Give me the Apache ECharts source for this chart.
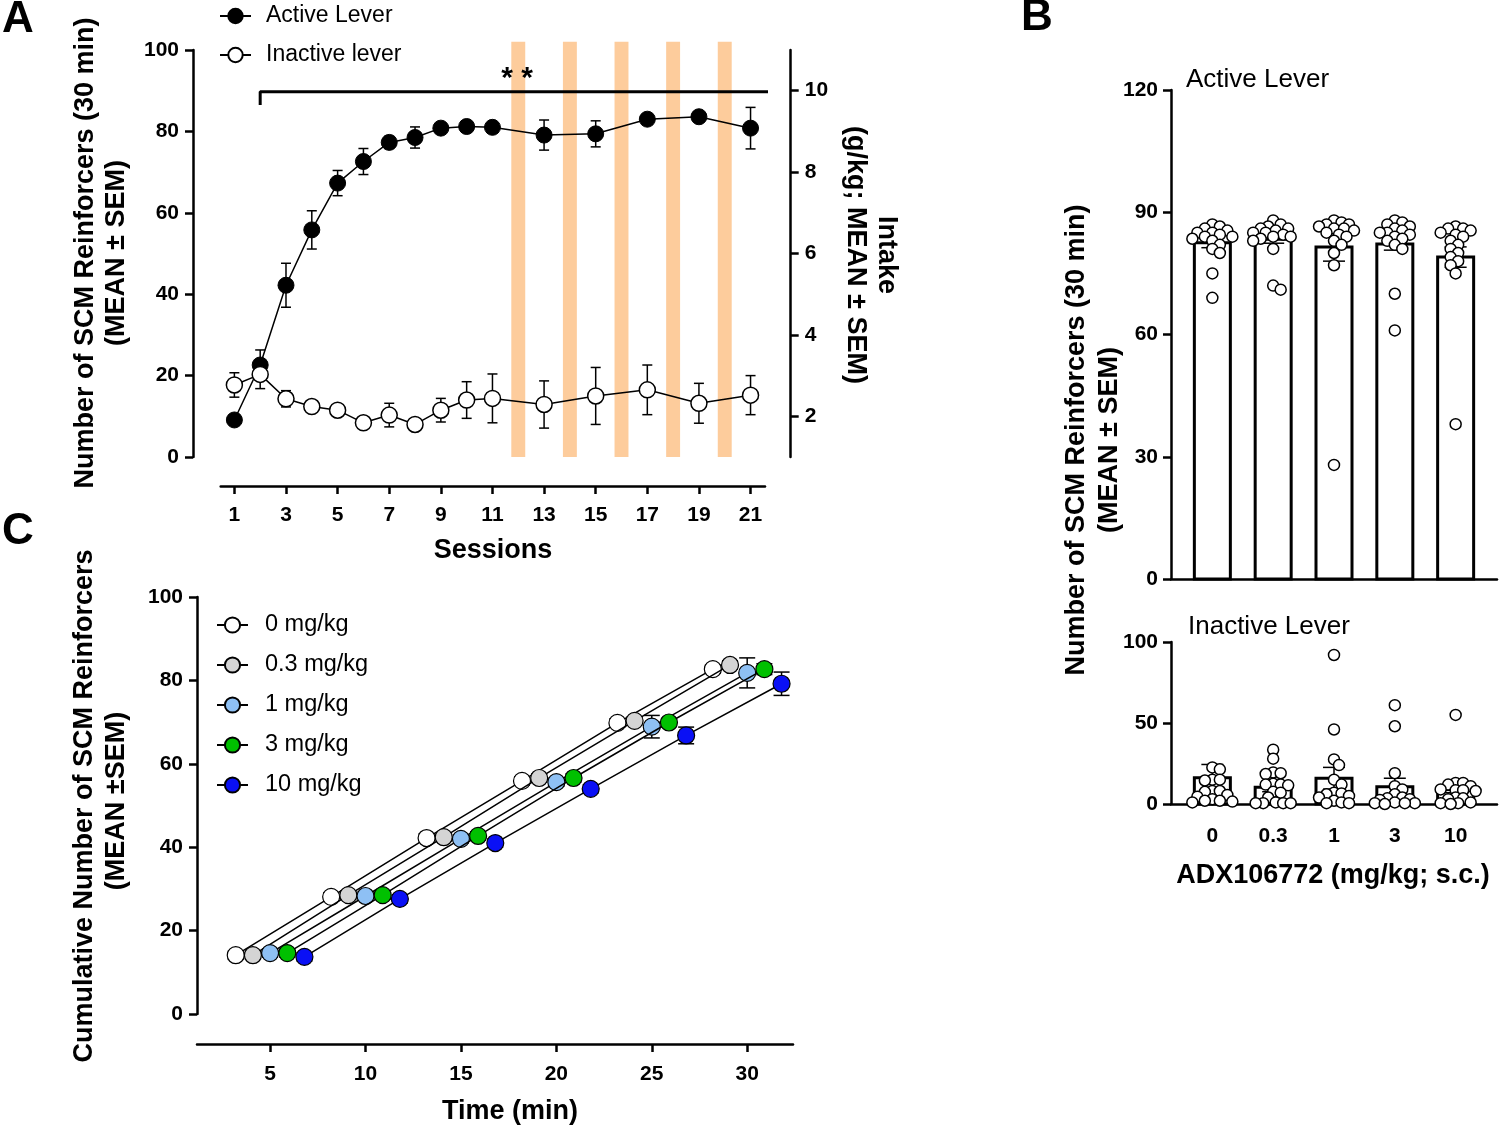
<!DOCTYPE html>
<html><head><meta charset="utf-8">
<script src="https://cdn.jsdelivr.net/npm/echarts@6/dist/echarts.min.js"></script>
<style>html,body{margin:0;padding:0;background:#fff}#c{width:1500px;height:1128px}</style>
</head><body><div id="c"></div><script>
const FONT = '"Liberation Sans", Arial, sans-serif';

// ---------- Panel A ----------
const sessions      = [1, 2, 3, 4, 5, 6, 7, 8, 9, 10, 11, 13, 15, 17, 19, 21];
const activeLever   = [9.1, 22.6, 42.2, 55.8, 67.3, 72.6, 77.3, 78.5, 80.8, 81.2, 81.0, 79.1, 79.4, 83.0, 83.6, 80.8];
const activeSEM     = [0.5, 3.7, 5.4, 4.7, 3.1, 3.2, 1.5, 2.6, 1.2, 0.6, 0.6, 3.7, 3.2, 1.0, 0.8, 5.1];
const inactiveLever = [17.7, 20.3, 14.3, 12.4, 11.5, 8.4, 10.3, 8.0, 11.5, 14.0, 14.4, 12.9, 15.0, 16.5, 13.2, 15.2];
const inactiveSEM   = [3.0, 3.5, 2.0, 0.8, 0.8, 0.8, 2.9, 0.8, 2.9, 4.5, 6.0, 5.8, 7.0, 6.1, 4.9, 4.8];
const orangeSessions = [12, 14, 16, 18, 20];
const sessionTicks = [1, 3, 5, 7, 9, 11, 13, 15, 17, 19, 21];
const intakeTicks = [2, 4, 6, 8, 10];
const bracketFrom = 2, bracketTo = 21.8, bracketLevel = 89.75, bracketFoot = 86.5;

// ---------- Panel B ----------
const doseLabels = ['0', '0.3', '1', '3', '10'];
const activeMeans = [82.5, 83.4, 81.5, 82.2, 79.0];
const activeBarSEM = [1.2, 1.0, 3.5, 1.5, 2.5];
const inactiveMeans = [16.2, 10.3, 15.9, 10.7, 9.0];
const inactiveBarSEM = [8.2, 2.7, 6.7, 5.2, 2.0];
const activeDots = [
  [87, 86.5, 86, 85.5, 85, 85, 84.5, 84, 84, 83.5, 83, 82, 81, 80, 75, 69],
  [88, 87, 86.5, 86, 86, 85.5, 85, 85, 84.5, 84, 84, 83.5, 83, 81, 72, 71],
  [88, 87.5, 87, 87, 86.5, 86, 86, 85.5, 85, 84.5, 84, 83, 82, 80, 77, 28],
  [88, 87.5, 87, 86.5, 86, 85.5, 85, 85, 84.5, 84, 83.5, 83, 82, 81, 70, 61],
  [86.5, 86, 86, 85.5, 85, 84.5, 84, 83, 82, 81, 80, 79, 78, 77, 75, 38]
];
const inactiveDots = [
  [22.6, 21.4, 15, 15, 14.5, 8, 8, 7.5, 5.6, 4.5, 3, 2, 2, 1.5, 1],
  [33.5, 28, 19.5, 19, 18.5, 12.5, 12, 12, 11.5, 7.5, 7, 4, 1, 0.5, 0.5, 0.5, 0.5],
  [92, 46, 27.5, 24, 15, 12, 7, 6.5, 6, 5, 4, 2, 1, 0.5, 0.5],
  [61, 48, 19, 11, 9, 6, 4, 3.5, 3, 2.5, 1, 0.5, 0.5, 0.5, 0],
  [55, 13, 13, 12, 11, 9, 8.5, 8.5, 8, 4, 3.5, 3, 1, 0.5, 0.5, 0]
];

// ---------- Panel C ----------
const timeBins = [5, 10, 15, 20, 25, 30];
const doseNames = ['0 mg/kg', '0.3 mg/kg', '1 mg/kg', '3 mg/kg', '10 mg/kg'];
const doseColors = ['#ffffff', '#d4d4d4', '#8ec0f4', '#00c000', '#0a10f5'];
const doseOffsets = [-1.8, -0.9, 0, 0.9, 1.8];
const cumDose0  = [14.1, 28.1, 42.2, 55.9, 69.8, 82.7];
const cumDose03 = [14.1, 28.5, 42.4, 56.6, 70.3, 83.7];
const cumDose1  = [14.6, 28.3, 42.0, 55.6, 68.9, 81.8];
const cumDose3  = [14.6, 28.5, 42.7, 56.6, 69.9, 82.7];
const cumDose10 = [13.7, 27.6, 41.0, 54.0, 66.8, 79.2];
const semDose0  = [1, 1, 1, 1, 1, 1];
const semDose03 = [1, 1, 1, 1, 1, 1];
const semDose1  = [1, 1, 1, 1, 2.7, 3.6];
const semDose3  = [1, 1, 1, 1, 1, 1.3];
const semDose10 = [1, 1, 1, 1, 2.0, 2.8];
const timeTicks = [5, 10, 15, 20, 25, 30];
const cumValues = [cumDose0, cumDose03, cumDose1, cumDose3, cumDose10];
const cumSEMs = [semDose0, semDose03, semDose1, semDose3, semDose10];

// ---------- helpers ----------
function errItem(capHalf, lw) {
  return function (params, api) {
    const x = api.value(0), m = api.value(1), s = api.value(2);
    const t = api.coord([x, m + s]), b = api.coord([x, m - s]);
    const st = { stroke: '#000', lineWidth: lw };
    return { type: 'group', children: [
      { type: 'line', shape: { x1: t[0], y1: t[1], x2: b[0], y2: b[1] }, style: st },
      { type: 'line', shape: { x1: t[0] - capHalf, y1: t[1], x2: t[0] + capHalf, y2: t[1] }, style: st },
      { type: 'line', shape: { x1: b[0] - capHalf, y1: b[1], x2: b[0] + capHalf, y2: b[1] }, style: st }
    ] };
  };
}
function barItem(params, api) {
  const g = api.value(0), m = api.value(1);
  const p0 = api.coord([g, 0]), p1 = api.coord([g, m]);
  return { type: 'rect', shape: { x: p0[0] - 18, y: p1[1], width: 36, height: p0[1] - p1[1] },
    style: { fill: '#fff', stroke: '#000', lineWidth: 3 } };
}
function swarmItem(groups) {
  return function (params, api) {
    const g = api.value(0);
    const vals = groups[g];
    const r = 5.5, minD = 7.2, step = 2.5, maxOff = 20;
    const placed = [];
    vals.forEach(v => {
      const p = api.coord([g, v]);
      let best = 0, bestScore = -1;
      const n = Math.ceil(maxOff / step) * 2;
      for (let k = 0; k <= n; k++) {
        const off = (k % 2 === 1 ? 1 : -1) * Math.ceil(k / 2) * step;
        let md = Infinity;
        placed.forEach(q => { const d = Math.hypot(p[0] + off - q[0], p[1] - q[1]); if (d < md) md = d; });
        if (md >= minD) { best = off; break; }
        if (md > bestScore) { bestScore = md; best = off; }
      }
      placed.push([p[0] + best, p[1]]);
    });
    return { type: 'group', children: placed.map(q => ({ type: 'circle', shape: { cx: q[0], cy: q[1], r },
      style: { fill: '#fff', stroke: '#000', lineWidth: 1.5 } })) };
  };
}
function txt(text, x, y, size, weight, rot, align) {
  return { type: 'text', x, y, rotation: rot || 0, z: 100,
    style: { text, fill: '#000', fontSize: size, fontWeight: weight, fontFamily: FONT,
      textAlign: align || 'center', textVerticalAlign: 'middle', align: align || 'center', verticalAlign: 'middle' } };
}
const axisLineStyle = { show: true, onZero: false, lineStyle: { color: '#000', width: 2.5 } };
const tickStyle = { show: true, length: 8, inside: false, lineStyle: { color: '#000', width: 2.5 } };
const labelStyle = (m) => ({ color: '#000', fontSize: 21, fontWeight: 'bold', fontFamily: FONT, margin: m });

const chart = echarts.init(document.getElementById('c'), null, { renderer: 'canvas' });

const series = [];
// Panel A
series.push({ type: 'custom', name: 'bands', xAxisIndex: 0, yAxisIndex: 0, clip: false, z: 1, silent: true,
  data: orangeSessions.map(s => [s]),
  renderItem: (params, api) => {
    const s = api.value(0);
    const a = api.coord([s - 0.27, 102]), b = api.coord([s + 0.27, 0]);
    return { type: 'rect', shape: { x: a[0], y: a[1], width: b[0] - a[0], height: b[1] - a[1] }, style: { fill: '#fdcc9c' } };
  } });
series.push({ type: 'line', name: 'bracket', xAxisIndex: 0, yAxisIndex: 0, clip: false, symbol: 'none', z: 3, silent: true,
  data: [[bracketFrom, bracketFoot], [bracketFrom, bracketLevel], [bracketTo, bracketLevel], [bracketTo, bracketFoot]],
  lineStyle: { color: '#000', width: 3 } });
series.push({ type: 'custom', name: 'activeErr', xAxisIndex: 0, yAxisIndex: 0, z: 4, clip: false,
  data: sessions.map((s, i) => [s, activeLever[i], activeSEM[i]]), renderItem: errItem(5, 1.5) });
series.push({ type: 'custom', name: 'inactiveErr', xAxisIndex: 0, yAxisIndex: 0, z: 4, clip: false,
  data: sessions.map((s, i) => [s, inactiveLever[i], inactiveSEM[i]]), renderItem: errItem(5, 1.5) });
series.push({ type: 'line', name: 'Active Lever', xAxisIndex: 0, yAxisIndex: 0, z: 5, clip: false,
  data: sessions.map((s, i) => [s, activeLever[i]]), symbol: 'circle', symbolSize: 16,
  itemStyle: { color: '#000', borderColor: '#000', borderWidth: 1 }, lineStyle: { color: '#000', width: 1.5 } });
series.push({ type: 'line', name: 'Inactive lever', xAxisIndex: 0, yAxisIndex: 0, z: 6, clip: false,
  data: sessions.map((s, i) => [s, inactiveLever[i]]), symbol: 'circle', symbolSize: 16,
  itemStyle: { color: '#fff', borderColor: '#000', borderWidth: 1.5 }, lineStyle: { color: '#000', width: 1.5 } });

// Panel B
series.push({ type: 'custom', xAxisIndex: 1, yAxisIndex: 2, z: 2, data: activeMeans.map((m, i) => [i, m]), renderItem: barItem });
series.push({ type: 'custom', xAxisIndex: 1, yAxisIndex: 2, z: 3, data: activeMeans.map((m, i) => [i, m, activeBarSEM[i]]), renderItem: errItem(11, 1.5) });
series.push({ type: 'custom', xAxisIndex: 1, yAxisIndex: 2, z: 4, clip: false, data: activeDots.map((d, i) => [i]), renderItem: swarmItem(activeDots) });
series.push({ type: 'custom', xAxisIndex: 2, yAxisIndex: 3, z: 2, data: inactiveMeans.map((m, i) => [i, m]), renderItem: barItem });
series.push({ type: 'custom', xAxisIndex: 2, yAxisIndex: 3, z: 3, data: inactiveMeans.map((m, i) => [i, m, inactiveBarSEM[i]]), renderItem: errItem(11, 1.5) });
series.push({ type: 'custom', xAxisIndex: 2, yAxisIndex: 3, z: 4, clip: false, data: inactiveDots.map((d, i) => [i]), renderItem: swarmItem(inactiveDots) });

// Panel C
cumValues.forEach((vals, k) => {
  series.push({ type: 'custom', xAxisIndex: 3, yAxisIndex: 4, z: 3 + k * 2, clip: false,
    data: timeBins.map((t, i) => [t + doseOffsets[k], vals[i], cumSEMs[k][i]]), renderItem: errItem(8, 1.5) });
  series.push({ type: 'line', name: doseNames[k], xAxisIndex: 3, yAxisIndex: 4, z: 4 + k * 2, clip: false,
    data: timeBins.map((t, i) => [t + doseOffsets[k], vals[i]]), symbol: 'circle', symbolSize: 17,
    itemStyle: { color: doseColors[k], borderColor: '#000', borderWidth: 1.2 }, lineStyle: { color: '#000', width: 1.5 } });
});

const option = {
  animation: false,
  backgroundColor: '#fff',
  textStyle: { fontFamily: FONT },
  grid: [
    { left: 220.7, top: 50, width: 544.3, height: 407 },
    { left: 1171, top: 90, width: 326, height: 489 },
    { left: 1171, top: 642, width: 326, height: 162 },
    { left: 197, top: 597, width: 596, height: 417 }
  ],
  legend: [
    { data: ['Active Lever', 'Inactive lever'], orient: 'vertical', left: 214, top: -1, itemWidth: 31, itemHeight: 18, itemGap: 15,
      textStyle: { fontSize: 23, color: '#000', fontFamily: FONT, lineHeight: 24, padding: [0, 0, 0, 10] }, selectedMode: false },
    { data: doseNames, orient: 'vertical', left: 211, top: 608, itemWidth: 31, itemHeight: 19, itemGap: 16,
      textStyle: { fontSize: 23.5, color: '#000', fontFamily: FONT, lineHeight: 24, padding: [0, 0, 0, 12] }, selectedMode: false }
  ],
  xAxis: [
    { gridIndex: 0, type: 'value', min: 0.47, max: 21.56, offset: 29, axisLine: axisLineStyle,
      axisTick: Object.assign({}, tickStyle, { customValues: sessionTicks }),
      axisLabel: Object.assign(labelStyle(19), { customValues: sessionTicks }), splitLine: { show: false } },
    { gridIndex: 1, type: 'value', min: -0.68, max: 4.68, axisLine: axisLineStyle, axisTick: { show: false },
      axisLabel: { show: false }, splitLine: { show: false } },
    { gridIndex: 2, type: 'value', min: -0.68, max: 4.68, axisLine: axisLineStyle, axisTick: { show: false },
      axisLabel: Object.assign(labelStyle(22), { customValues: [0, 1, 2, 3, 4], formatter: v => doseLabels[Math.round(v)] }),
      splitLine: { show: false } },
    { gridIndex: 3, type: 'value', min: 1.17, max: 32.4, offset: 30, axisLine: axisLineStyle,
      axisTick: Object.assign({}, tickStyle, { customValues: timeTicks }),
      axisLabel: Object.assign(labelStyle(20), { customValues: timeTicks }), splitLine: { show: false } }
  ],
  yAxis: [
    { gridIndex: 0, type: 'value', position: 'left', min: 0, max: 100, interval: 20, offset: 27.7,
      axisLine: axisLineStyle, axisTick: tickStyle, axisLabel: labelStyle(14), splitLine: { show: false } },
    { gridIndex: 0, type: 'value', position: 'right', min: 1, max: 11, offset: 25.7,
      axisLine: axisLineStyle, axisTick: Object.assign({}, tickStyle, { customValues: intakeTicks }),
      axisLabel: Object.assign(labelStyle(14), { customValues: intakeTicks }), splitLine: { show: false } },
    { gridIndex: 1, type: 'value', min: 0, max: 120, interval: 30,
      axisLine: axisLineStyle, axisTick: tickStyle, axisLabel: labelStyle(13), splitLine: { show: false } },
    { gridIndex: 2, type: 'value', min: 0, max: 100, interval: 50,
      axisLine: axisLineStyle, axisTick: tickStyle, axisLabel: labelStyle(13), splitLine: { show: false } },
    { gridIndex: 3, type: 'value', min: 0, max: 100, interval: 20,
      axisLine: axisLineStyle, axisTick: tickStyle, axisLabel: labelStyle(14), splitLine: { show: false } }
  ],
  graphic: [
    txt('A', 18, 20, 44, 'bold'),
    txt('B', 1037, 18, 44, 'bold'),
    txt('C', 18, 532, 44, 'bold'),
    txt('* *', 517, 79, 30, 'bold'),
    txt('Number of SCM Reinforcers (30 min)', 86, 253, 27, 'bold', Math.PI / 2),
    txt('(MEAN ± SEM)', 117, 253, 27, 'bold', Math.PI / 2),
    txt('Intake', 886, 255, 27, 'bold', -Math.PI / 2),
    txt('(g/kg; MEAN ± SEM)', 855, 255, 27, 'bold', -Math.PI / 2),
    txt('Sessions', 493, 551, 27, 'bold'),
    txt('Active Lever', 1186, 80, 26, 'normal', 0, 'left'),
    txt('Inactive Lever', 1188, 627, 26, 'normal', 0, 'left'),
    txt('Number of SCM Reinforcers (30 min)', 1077, 440, 27, 'bold', Math.PI / 2),
    txt('(MEAN ± SEM)', 1110, 440, 27, 'bold', Math.PI / 2),
    txt('ADX106772 (mg/kg; s.c.)', 1333, 876, 27, 'bold'),
    txt('Cumulative Number of SCM Reinforcers', 85, 806, 27, 'bold', Math.PI / 2),
    txt('(MEAN ±SEM)', 117, 801, 27, 'bold', Math.PI / 2),
    txt('Time (min)', 510, 1112, 27, 'bold')
  ],
  series
};
chart.setOption(option);
</script></body></html>
